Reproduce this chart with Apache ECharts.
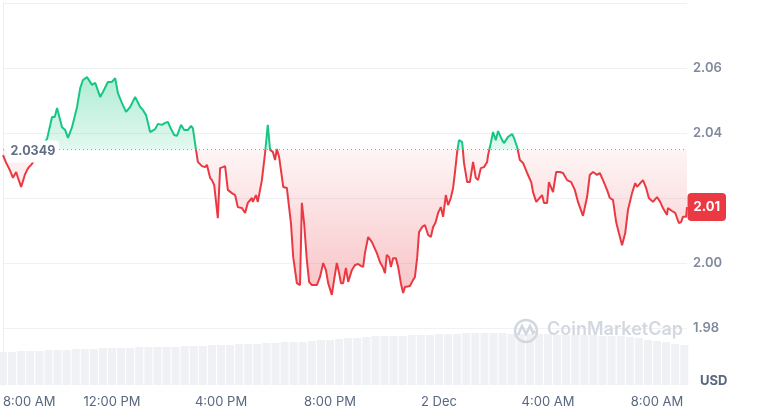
<!DOCTYPE html>
<html><head><meta charset="utf-8">
<script src="https://cdn.jsdelivr.net/npm/echarts@6/dist/echarts.min.js"></script>
<style>html,body{margin:0;padding:0;background:#fff}#c{width:774px;height:415px}</style>
</head><body><div id="c"></div>
<script>
const tickLabels = ['8:00 AM','12:00 PM','4:00 PM','8:00 PM','2 Dec','4:00 AM','8:00 AM'];
const baseline = 2.0349;
const lastLabel = '2.01';
const xMax = 1506; // minutes since 8:00 AM
const minutes = [0,7,15,22,29,33,40,44,48,53,
57,62,70,81,90,97,108,110,114,119,
123,130,137,143,152,163,170,176,185,189,
196,203,214,220,231,240,247,253,262,271,
280,291,295,302,308,315,324,335,341,350,
357,363,370,377,383,392,399,407,414,418,
425,429,438,445,449,456,460,465,473,478,
484,489,495,504,511,517,526,533,539,548,
550,557,561,570,577,583,588,594,599,603,
608,614,617,625,628,634,639,643,647,654,
658,663,669,674,680,691,698,705,711,716,
724,729,735,740,744,749,755,760,768,775,
782,788,793,797,804,812,815,823,830,837,
841,845,850,854,859,865,870,876,881,885,
896,903,907,912,916,923,929,936,942,947,
952,958,964,969,975,980,986,991,995,1000,
1004,1011,1015,1022,1028,1035,1041,1046,1052,1059,
1066,1068,1074,1079,1085,1090,1099,1103,1112,1121,
1125,1132,1138,1145,1154,1163,1167,1174,1178,1187,
1191,1198,1202,1211,1218,1226,1233,1242,1251,1259,
1266,1277,1286,1292,1299,1308,1314,1321,1330,1336,
1343,1350,1356,1363,1370,1376,1385,1392,1396,1400,
1409,1416,1422,1431,1440,1447,1453,1462,1464,1473,
1480,1488,1493,1497,1504,1506];
const prices = [2.0332,2.0308,2.0286,2.0262,2.0280,2.0262,2.0234,2.0234,2.0271,2.0286,
2.0295,2.0302,2.0317,2.0348,2.0369,2.0382,2.0449,2.0455,2.0449,2.0477,
2.0471,2.0418,2.0409,2.0385,2.0418,2.0480,2.0538,2.0563,2.0572,2.0578,
2.0548,2.0554,2.0511,2.0526,2.0557,2.0557,2.0569,2.0523,2.0492,2.0465,
2.0480,2.0511,2.0508,2.0480,2.0471,2.0455,2.0403,2.0412,2.0428,2.0425,
2.0431,2.0434,2.0412,2.0394,2.0391,2.0425,2.0409,2.0409,2.0422,2.0415,
2.0348,2.0311,2.0298,2.0295,2.0302,2.0262,2.0255,2.0240,2.0138,2.0292,
2.0295,2.0298,2.0225,2.0215,2.0209,2.0172,2.0169,2.0154,2.0185,2.0200,
2.0188,2.0209,2.0188,2.0255,2.0338,2.0425,2.0348,2.0342,2.0317,2.0351,
2.0326,2.0265,2.0234,2.0231,2.0194,2.0123,2.0018,1.9978,1.9938,1.9932,
2.0185,2.0123,2.0009,1.9942,1.9932,1.9932,1.9957,2.0000,1.9978,1.9938,
1.9902,1.9948,2.0000,1.9969,1.9938,1.9938,1.9985,1.9942,1.9978,1.9994,
1.9997,1.9991,1.9988,2.0031,2.0080,2.0065,2.0062,2.0031,2.0003,1.9985,
1.9969,2.0025,2.0018,1.9988,2.0015,2.0015,1.9988,1.9938,1.9908,1.9926,
1.9929,1.9948,1.9957,2.0018,2.0095,2.0111,2.0117,2.0086,2.0080,2.0111,
2.0123,2.0154,2.0172,2.0142,2.0209,2.0178,2.0200,2.0231,2.0277,2.0342,
2.0378,2.0372,2.0308,2.0249,2.0249,2.0311,2.0262,2.0255,2.0292,2.0295,
2.0311,2.0332,2.0369,2.0403,2.0378,2.0406,2.0378,2.0369,2.0388,2.0397,
2.0385,2.0357,2.0317,2.0308,2.0277,2.0249,2.0218,2.0188,2.0185,2.0209,
2.0185,2.0185,2.0249,2.0218,2.0280,2.0280,2.0277,2.0255,2.0249,2.0225,
2.0188,2.0145,2.0203,2.0271,2.0280,2.0271,2.0277,2.0255,2.0225,2.0200,
2.0194,2.0126,2.0092,2.0055,2.0092,2.0163,2.0215,2.0246,2.0234,2.0240,
2.0255,2.0231,2.0200,2.0188,2.0203,2.0188,2.0169,2.0148,2.0169,2.0160,
2.0154,2.0123,2.0126,2.0142,2.0142,2.0172];
const volStep = 20; // minutes between volume bars
const volumes = [330,330,340,340,340,350,350,350,360,360,
360,370,370,370,370,380,380,380,380,380,
390,390,390,400,400,400,410,410,410,420,
420,430,430,430,440,450,450,460,470,470,
480,490,490,490,490,500,500,500,510,510,
510,520,520,520,520,520,510,510,510,510,
510,500,500,500,500,500,490,490,490,480,
470,450,440,430,410,400];

const green = '#16c784', red = '#ea3943', font = 'Inter';
const yMin = 1.98, yMax = 2.08;
const lineData = minutes.map((m, i) => [m, prices[i]]);
const aboveData = minutes.map((m, i) => [m, Math.max(prices[i], baseline)]);
const belowData = minutes.map((m, i) => [m, Math.min(prices[i], baseline)]);
const volData = volumes.map((v, i) => [i * volStep, v]);
const lastPrice = prices[prices.length - 1];

const chart = echarts.init(document.getElementById('c'));
chart.setOption({
  animation: false,
  grid: [
    {left: 3, right: 87, top: 3, height: 325},
    {left: 3, right: 87, top: 328, height: 57}
  ],
  xAxis: [
    {type: 'value', gridIndex: 0, min: 0, max: xMax, interval: 240, show: false},
    {type: 'value', gridIndex: 1, min: 0, max: xMax, interval: 240,
     axisLine: {show: false}, axisTick: {show: false}, splitLine: {show: false},
     axisLabel: {color: '#58667e', fontSize: 13, fontFamily: font, margin: 11,
       alignMinLabel: 'left', showMaxLabel: false,
       formatter: v => (v % 240 === 0 && tickLabels[v / 240]) ? tickLabels[v / 240] : ''}}
  ],
  yAxis: [
    {type: 'value', gridIndex: 0, position: 'right', min: yMin, max: yMax, interval: 0.02,
     axisLine: {show: true, lineStyle: {color: '#eaedf1'}}, axisTick: {show: false},
     splitLine: {lineStyle: {color: '#eff2f5'}},
     axisLabel: {color: '#808a9d', fontSize: 13, fontWeight: 600, fontFamily: font, margin: 6,
       showMaxLabel: false,
       formatter: v => Math.abs(v - lastPrice) < 0.008 ? '' : v.toFixed(2)}},
    {type: 'value', gridIndex: 1, position: 'right', min: 0, max: 570,
     axisLine: {show: true, lineStyle: {color: '#eaedf1'}}, axisTick: {show: false},
     axisLabel: {show: false}, splitLine: {show: false}}
  ],
  series: [
    {id: 'vol', type: 'bar', xAxisIndex: 1, yAxisIndex: 1, data: volData, barWidth: 8,
     itemStyle: {color: '#eff1f4'}, silent: true},
    {id: 'up', type: 'line', data: aboveData, showSymbol: false, silent: true,
     lineStyle: {opacity: 0},
     areaStyle: {origin: baseline, opacity: 1,
       color: new echarts.graphic.LinearGradient(0, 0, 0, 1, [
         {offset: 0, color: 'rgba(22,199,132,0.34)'}, {offset: 1, color: 'rgba(22,199,132,0.12)'}])}},
    {id: 'down', type: 'line', data: belowData, showSymbol: false, silent: true,
     lineStyle: {opacity: 0},
     areaStyle: {origin: baseline, opacity: 1,
       color: new echarts.graphic.LinearGradient(0, 0, 0, 1, [
         {offset: 0, color: 'rgba(234,57,67,0.05)'}, {offset: 1, color: 'rgba(234,57,67,0.30)'}])}},
    {id: 'base', type: 'line', data: [[0, baseline], [xMax, baseline]], showSymbol: false, silent: true,
     lineStyle: {color: '#a09a9a', type: [1, 3], width: 1}},
    {id: 'price', type: 'line', data: lineData, showSymbol: false, silent: true,
     lineStyle: {width: 2, color: red},
     markPoint: {silent: true, data: [
       {coord: [0, baseline], symbol: 'rect', symbolSize: 1, itemStyle: {color: 'rgba(0,0,0,0)'},
        label: {show: true, position: 'right', distance: 3, offset: [0, 2], formatter: String(baseline),
          backgroundColor: '#fff', borderRadius: 4, padding: [5, 4, 4, 4],
          color: '#616e85', fontSize: 12.5, fontWeight: 700, fontFamily: font}},
       {coord: [xMax, lastPrice], symbol: 'rect', symbolSize: 1, itemStyle: {color: 'rgba(0,0,0,0)'},
        label: {show: true, position: 'right', distance: 0, formatter: lastLabel,
          backgroundColor: red, borderRadius: 4, padding: [6, 6], lineHeight: 16,
          color: '#fff', fontSize: 13, fontWeight: 700, fontFamily: font}}
     ]}}
  ],
  graphic: [
    {type: 'text', left: 700, top: 375, style: {text: 'USD', fill: '#58667e', font: 'bold 13px Inter'}},
    {type: 'circle', shape: {cx: 526, cy: 331, r: 11}, style: {fill: 'none', stroke: '#d3d8e0', lineWidth: 2.5}, z: 10},
    {type: 'polyline', shape: {points: [[518, 335], [522, 326], [526, 334], [530, 326], [533, 333], [535, 331]]},
     style: {fill: 'none', stroke: '#d3d8e0', lineWidth: 2.5}, z: 10},
    {type: 'text', left: 547, top: 321, style: {text: 'CoinMarketCap', fill: '#d3d8e0', font: '600 18px Inter'}, z: 10}
  ]
});

// colour the price line green above the baseline and red below it
const pTop = chart.convertToPixel({yAxisIndex: 0}, yMax);
const pBot = chart.convertToPixel({yAxisIndex: 0}, yMin);
const pBase = chart.convertToPixel({yAxisIndex: 0}, baseline);
const f = (pBase - pTop) / (pBot - pTop);
chart.setOption({series: [{id: 'price', lineStyle: {color: new echarts.graphic.LinearGradient(0, pTop, 0, pBot, [
  {offset: 0, color: green}, {offset: f, color: green}, {offset: f, color: red}, {offset: 1, color: red}], true)}}]});
</script></body></html>
